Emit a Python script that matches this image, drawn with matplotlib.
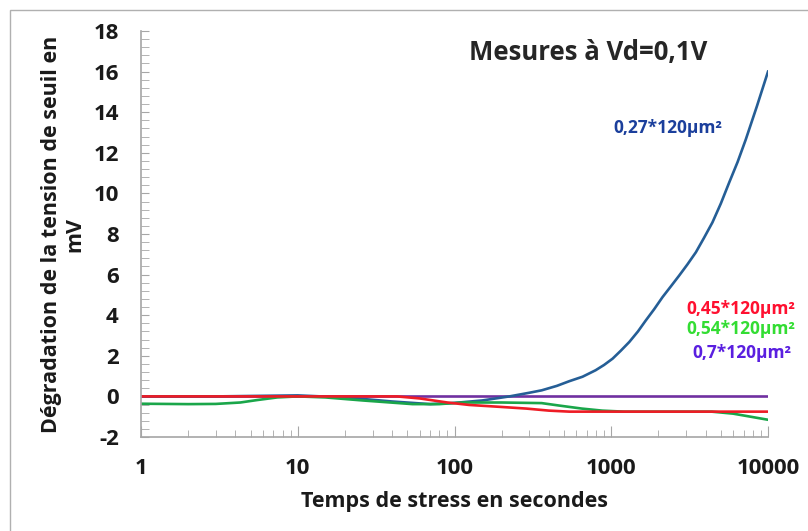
import matplotlib.pyplot as plt
from matplotlib.ticker import LogLocator, MultipleLocator, FixedLocator, FixedFormatter

plt.rcParams['font.family'] = ['Open Sans', 'DejaVu Sans']
plt.rcParams['font.weight'] = 'bold'

# data (time in s, threshold shift in mV)
t_027 = [1, 3, 10, 20, 40, 70, 100, 150, 224, 300, 360, 450, 540, 656, 795, 900,
         1020, 1150, 1303, 1480, 1660, 1880, 2123, 2400, 2710, 3060, 3466, 3900,
         4420, 5000, 5650, 6400, 7210, 8500, 10000]
dv_027 = [0, 0, 0.05, -0.05, -0.25, -0.38, -0.32, -0.2, 0, 0.18, 0.3, 0.52, 0.75,
          0.97, 1.29, 1.55, 1.86, 2.25, 2.68, 3.2, 3.74, 4.3, 4.89, 5.42, 5.95,
          6.5, 7.1, 7.8, 8.57, 9.5, 10.53, 11.55, 12.65, 14.3, 16.0]

t_045 = [1, 10, 30, 43, 60, 90, 124, 200, 288, 400, 540, 1000, 10000]
dv_045 = [0, 0, 0, 0, -0.1, -0.3, -0.42, -0.52, -0.6, -0.7, -0.75, -0.75, -0.75]

t_054 = [1, 2, 3, 4.3, 5.5, 7.4, 10, 15, 26, 54, 80, 112, 200, 360, 465, 650,
         875, 1200, 4370, 6000, 10000]
dv_054 = [-0.36, -0.38, -0.37, -0.3, -0.18, -0.05, 0, -0.05, -0.2, -0.38, -0.38,
          -0.3, -0.3, -0.33, -0.45, -0.6, -0.7, -0.75, -0.75, -0.85, -1.15]

t_07 = [1, 10000]
dv_07 = [0, 0]

x_ticks = [1, 10, 100, 1000, 10000]
x_labels = ['1', '10', '100', '1000', '10000']

fig = plt.figure(figsize=(8.08, 5.31), dpi=100)
ax = fig.add_axes([0.1745, 0.177, 0.776, 0.7646])

lw = 1.9
ax.plot(t_07, dv_07, color='#7030a0', lw=lw)
ax.plot(t_027, dv_027, color='#255e96', lw=lw)
ax.plot(t_054, dv_054, color='#1aa64a', lw=lw)
ax.plot(t_045, dv_045, color='#ee1c25', lw=lw)

ax.set_xscale('log')
ax.set_xlim(1, 10000)
ax.set_ylim(-2, 18)

ax.xaxis.set_major_locator(FixedLocator(x_ticks))
ax.xaxis.set_major_formatter(FixedFormatter(x_labels))
ax.xaxis.set_minor_locator(LogLocator(base=10, subs=range(2, 10)))
ax.yaxis.set_major_locator(MultipleLocator(2))
ax.yaxis.set_minor_locator(MultipleLocator(0.4))

for s in ['top', 'right']:
    ax.spines[s].set_visible(False)
for s in ['left', 'bottom']:
    ax.spines[s].set_color('#a6a6a6')
    ax.spines[s].set_linewidth(1.2)

ax.tick_params(axis='both', which='both', direction='in', colors='#a6a6a6',
               labelcolor='#1a1a1a', labelsize=16)
ax.tick_params(axis='y', which='both', length=6, pad=16)
ax.tick_params(axis='x', which='major', length=8, pad=15)
ax.tick_params(axis='x', which='minor', length=5)
ax.yaxis.set_major_formatter(plt.FuncFormatter(lambda v, p: '%d' % round(v)))
for lab in ax.get_xticklabels() + ax.get_yticklabels():
    lab.set_fontweight('bold')

ax.set_xlabel('Temps de stress en secondes', fontsize=15.5, fontweight='bold',
              color='#1a1a1a', labelpad=9)
ax.set_ylabel('Dégradation de la tension de seuil en\nmV', fontsize=15.5,
              fontweight='bold', color='#1a1a1a', labelpad=6, linespacing=1.1)

fig.text(0.728, 0.902, 'Mesures à Vd=0,1V', fontsize=18.5, fontweight='bold',
         color='#262626', ha='center', va='center')

fig.text(0.826, 0.759, '0,27*120µm²', fontsize=12.5, fontweight='bold',
         color='#1b3f9c', ha='center', va='center')
fig.text(0.849, 0.419, '0,45*120µm²', fontsize=12.5, fontweight='bold',
         color='#ff1030', ha='left', va='center')
fig.text(0.849, 0.381, '0,54*120µm²', fontsize=12.5, fontweight='bold',
         color='#33dd33', ha='left', va='center')
fig.text(0.857, 0.335, '0,7*120µm²', fontsize=12.5, fontweight='bold',
         color='#5a1fe0', ha='left', va='center')

# outer chart border
fig.patches.append(plt.Rectangle((10 / 808, -0.1), 1.2, 1 - 10 / 531 + 0.1,
                                 transform=fig.transFigure, fill=False,
                                 edgecolor='#b0b0b0', lw=1))

fig.savefig('out.png', dpi=100)
